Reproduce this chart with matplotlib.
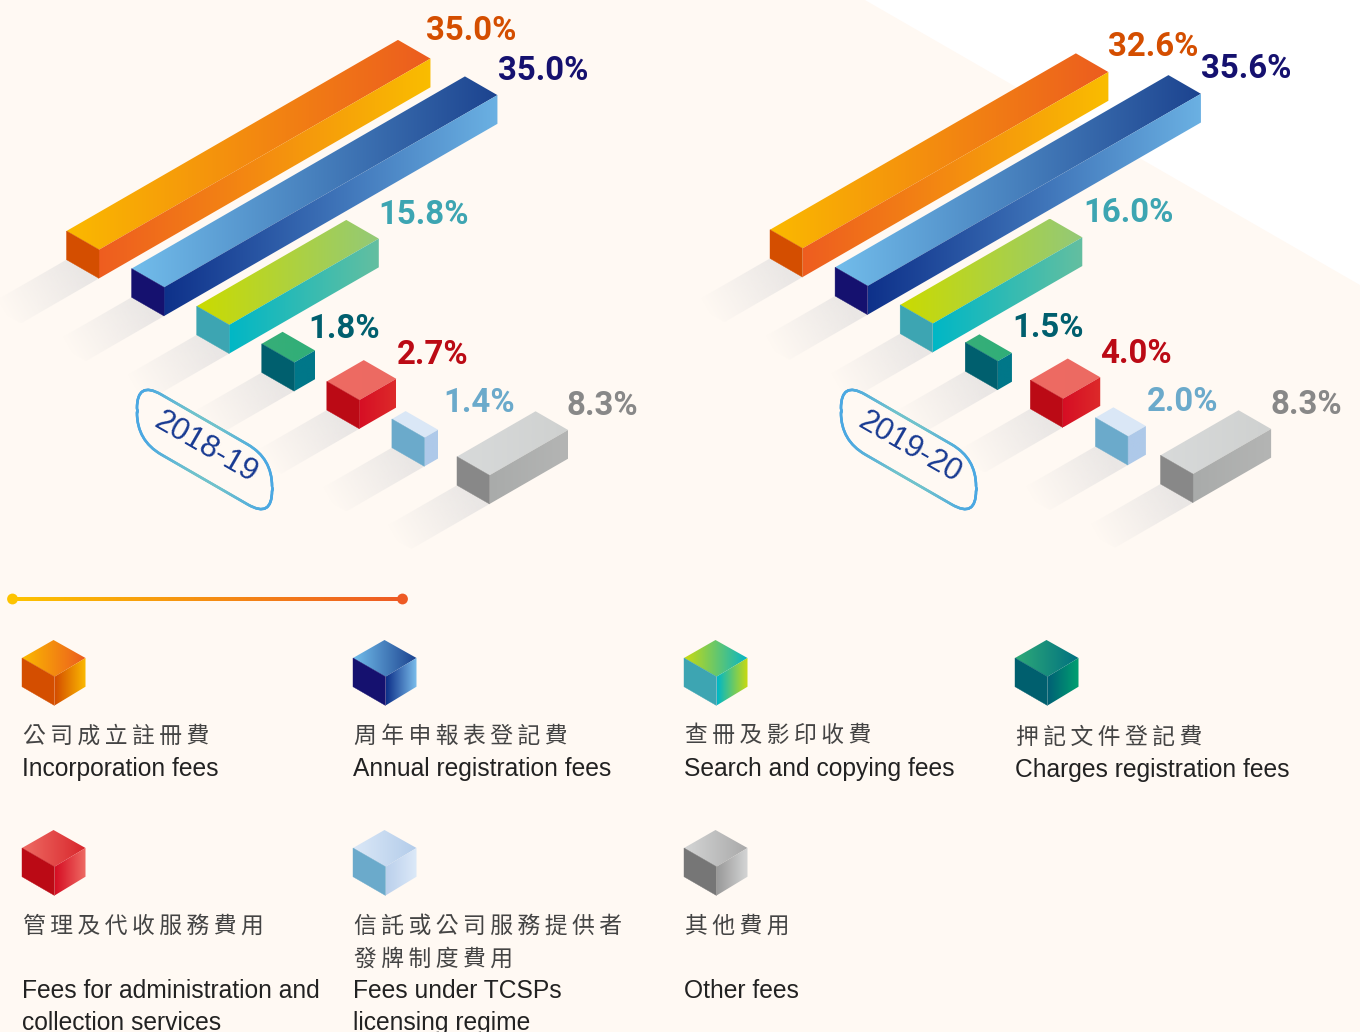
import numpy as np
import matplotlib
matplotlib.use('Agg')
import matplotlib.pyplot as plt
from matplotlib.colors import to_rgb
from matplotlib.patches import Polygon, Circle, FancyBboxPatch, Rectangle
from matplotlib.collections import LineCollection
from matplotlib.transforms import Affine2D

# printed shares
shares_2018 = [35.0, 35.0, 15.8, 1.8, 2.7, 1.4, 8.3]
shares_2019 = [32.6, 35.6, 16.0, 1.5, 4.0, 2.0, 8.3]
# bar depth as drawn in the picture (same unit, the small ones differ from the print)
depth_2018 = [35.0, 35.2, 15.8, 2.2, 3.9, 1.45, 8.3]
depth_2019 = [32.3, 35.2, 15.8, 1.5, 3.95, 1.9, 8.25]
years = ['2018-19', '2019-20']

fees_zh = ['公司成立註冊費', '周年申報表登記費', '查冊及影印收費', '押記文件登記費',
           '管理及代收服務費用', '信託或公司服務提供者\n發牌制度費用', '其他費用']
fees_en = ['Incorporation fees', 'Annual registration fees', 'Search and copying fees',
           'Charges registration fees', 'Fees for administration and\ncollection services',
           'Fees under TCSPs\nlicensing regime', 'Other fees']

# colours: top near/far, side near/far, end face
top_col = [('#FBB900', '#EC5C1F'), ('#72BDEB', '#1C438F'), ('#CBDB00', '#93C978'), ('#37AF78', '#30AE78'),
           ('#EE6B63', '#EC6A62'), ('#DBE8F7', '#DAE7F6'), ('#D8DADA', '#CFD1D0')]
side_col = [('#EE5D20', '#FABD00'), ('#0E318A', '#6BB1E3'), ('#00B7C6', '#64BFA0'), ('#007789', '#007789'),
            ('#D60E24', '#DD2A2A'), ('#AEC9E9', '#AEC9E9'), ('#A9ABAA', '#B4B5B4')]
end_col = ['#D44E00', '#15116F', '#3DA5B2', '#005F6E', '#BB0A15', '#6BAACB', '#888888']
label_col = ['#D44E00', '#15116F', '#3DA5B2', '#005F6E', '#BB0A15', '#6BAACB', '#888888']
# legend cubes have stronger gradients
cube_top = [('#FBB900', '#EC5C1F'), ('#72BDEB', '#1C438F'), ('#C9DA10', '#06B5C6'), ('#2FAA78', '#007080'),
            ('#EE6B63', '#D8262C'), ('#DBE8F7', '#B3CCEA'), ('#D4D5D5', '#A9A9A9')]
cube_side = [('#D44E00', '#FBB900'), ('#0E318A', '#7BBDEB'), ('#00B7C6', '#C9DA10'), ('#006175', '#00A070'),
             ('#D60E24', '#EE6B63'), ('#BBD0EC', '#DCE9F8'), ('#9A9A9A', '#D4D5D5')]
cube_end = ['#D44E00', '#15116F', '#3DA5B2', '#005F6E', '#BB0A15', '#6BAACB', '#767676']

BG = '#FFF9F3'
UNIT = np.array([9.47, -5.46])
STEP = np.array([65.08, 37.6])
WIDE = np.array([32.5, 18.7])
TALL = np.array([0, 28.7])
ORIGINS = [np.array([66.5, 231.0]), np.array([770.0, 229.7])]
LABEL_XY = [[(426, 29), (498, 69), (378, 213), (308, 327), (397, 353), (443, 401), (567, 404)],
            [(1108, 45), (1201, 67), (1083, 211), (1012, 326), (1100, 352), (1147, 400), (1271, 403)]]
PILLS = [(204.5, 449.5), (908.5, 449.5)]
COL_X = [22, 353, 684, 1015]
CJK = ['Noto Sans CJK TC', 'DejaVu Sans']

fig = plt.figure(figsize=(13.6, 10.32), dpi=100, facecolor=BG)
ax = fig.add_axes([0, 0, 1, 1])
ax.set_xlim(0, 1360)
ax.set_ylim(1032, 0)
ax.axis('off')
ax.set_autoscale_on(False)


def px(n):
    return n * 0.72


def grad(pts, c0, c1, p0=None, p1=None, a0=1.0, a1=1.0, z=2):
    pts = np.array(pts, dtype=float)
    x0, y0 = pts.min(axis=0)
    x1, y1 = pts.max(axis=0)
    if p0 is None:
        p0, p1 = (x0, y0), (x1, y0)
    nx, ny = int(x1 - x0) + 2, int(y1 - y0) + 2
    X, Y = np.meshgrid(np.linspace(x0, x1, nx), np.linspace(y0, y1, ny))
    dx, dy = p1[0] - p0[0], p1[1] - p0[1]
    t = np.clip(((X - p0[0]) * dx + (Y - p0[1]) * dy) / (dx * dx + dy * dy), 0, 1)[..., None]
    rgb = np.array(to_rgb(c0)) * (1 - t) + np.array(to_rgb(c1)) * t
    alpha = a0 * (1 - t) + a1 * t
    im = ax.imshow(np.dstack([rgb, alpha]), extent=(x0, x1, y1, y0), aspect='auto',
                   interpolation='bilinear', zorder=z)
    im.set_clip_path(Polygon(pts, transform=ax.transData))


def solid(pts, c, z=2):
    ax.add_patch(Polygon(pts, closed=True, fc=c, ec=c, lw=0.3, zorder=z))


# page background with the white corner
ax.add_patch(Rectangle((0, 0), 1360, 1032, fc=BG, ec='none', zorder=0))
ax.add_patch(Polygon([(865, 0), (1360, 0), (1360, 285)], fc='white', ec='none', zorder=0.5))

for k, depths in enumerate([depth_2018, depth_2019]):
    shares = [shares_2018, shares_2019][k]
    for i, d in enumerate(depths):
        L = ORIGINS[k] + i * STEP
        far = L + d * UNIT
        front = L + WIDE
        right = far + WIDE
        # shadow on the floor
        s = np.array([-78, 45])
        lb, fb = L + TALL, front + TALL
        grad([lb, fb, fb + s, lb + s], '#EAE7E5', '#EAE7E5', p0=tuple(lb + WIDE * 0.5),
             p1=tuple(lb + WIDE * 0.5 + s), a0=1.0, a1=0.0, z=1)
        grad([L, far, right, front], top_col[i][0], top_col[i][1], z=3)
        grad([front, right, right + TALL, fb], side_col[i][0], side_col[i][1], z=3)
        solid([L, front, fb, lb], end_col[i], z=3)
        x, y = LABEL_XY[k][i]
        ax.text(x, y + 2, f'{shares[i]:.1f}%', family='Roboto', weight='bold', fontsize=px(33),
                color=label_col[i], ha='left', va='center', zorder=5)

# year pills, sheared like the bars
for (cx, cy), year in zip(PILLS, years):
    W, H, r = 78, 30, 28
    skew = Affine2D.from_values(0.866, 0.5, 0, 1, cx, cy)
    box = FancyBboxPatch((-W, -H), 2 * W, 2 * H, boxstyle=f'round,pad=0,rounding_size={r}',
                         fc=BG, ec='none', zorder=4, transform=skew + ax.transData)
    ax.add_patch(box)
    poly = box.get_path().to_polygons(closed_only=False)[0]
    dist = np.r_[0, np.cumsum(np.hypot(*np.diff(poly, axis=0).T))]
    keep = np.r_[True, np.diff(dist) > 0]
    s = np.linspace(0, dist[-1], 400)
    verts = np.c_[np.interp(s, dist[keep], poly[keep, 0]), np.interp(s, dist[keep], poly[keep, 1])]
    mix = np.clip((np.abs(verts[:, 0]) - 15) / 55, 0, 1)[:, None]
    cols = np.array(to_rgb('#70C2CC')) * (1 - mix) + np.array(to_rgb('#4BA8E2')) * mix
    xy = skew.transform(verts)
    segs = np.stack([xy[:-1], xy[1:]], axis=1)
    ax.add_collection(LineCollection(segs, colors=cols[:-1], linewidths=1.9, zorder=4.5, capstyle='round'))
    ax.text(cx + 1, cy - 2, year, family='Liberation Sans', fontsize=px(31), color='#183A92', rotation=-30,
            rotation_mode='anchor', ha='center', va='center', zorder=5)

# divider
grad([(12, 597.3), (403, 597.3), (403, 600.7), (12, 600.7)], '#FDC300', '#EE5A24', z=2)
ax.add_patch(Circle((12.5, 599), 5.4, fc='#FDC300', ec='none', zorder=3))
ax.add_patch(Circle((402.5, 599), 5.4, fc='#EE5A24', ec='none', zorder=3))

# legend
for i in range(7):
    col, row = i % 4, i // 4
    x = COL_X[col]
    y = 640 + row * 190
    p_left, p_top, p_right = (x, y + 18), (x + 31.5, y), (x + 63.5, y + 18)
    p_front, p_bot = (x + 32.5, y + 36.7), (x + 32.5, y + 65.5)
    p_lb, p_rb = (x, y + 46.7), (x + 63.5, y + 46.7)
    grad([p_left, p_top, p_right, p_front], cube_top[i][0], cube_top[i][1], z=3)
    grad([p_front, p_right, p_rb, p_bot], cube_side[i][0], cube_side[i][1], z=3)
    solid([p_left, p_front, p_bot, p_lb], cube_end[i], z=3)

    zh_y = y + 96 if i != 3 else y + 97
    for j, line in enumerate(fees_zh[i].split('\n')):
        ax.text(x + 1, zh_y + j * 33, '\u2009'.join(line), family=CJK, fontsize=px(22.8), color='#444444',
                ha='left', va='center', zorder=5)
    en_y = y + 129 if row == 0 else y + 161
    if i == 3:
        en_y += 1
    for j, line in enumerate(fees_en[i].split('\n')):
        ax.text(x, en_y + j * 32, line, family='Liberation Sans', fontsize=px(24.6), color='#222222',
                ha='left', va='center', zorder=5)

fig.savefig('out.png', dpi=100, facecolor=BG)
